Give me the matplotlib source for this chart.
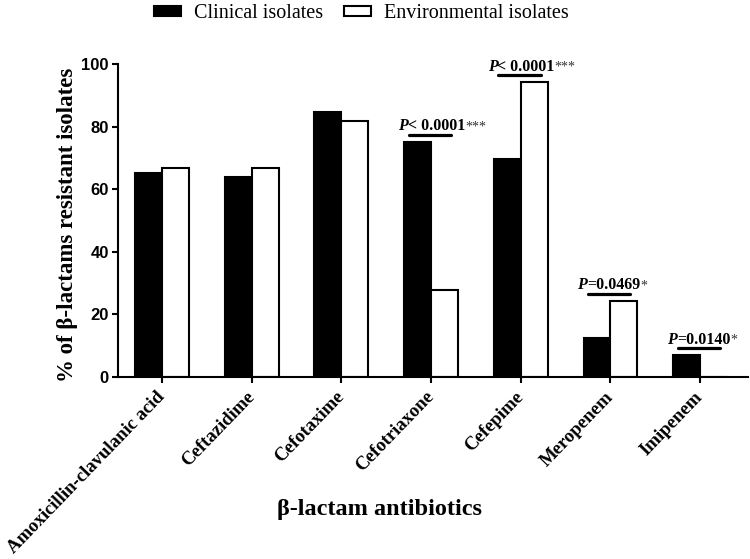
import numpy as np
import matplotlib
matplotlib.use("Agg")
import matplotlib.pyplot as plt
from matplotlib.patches import Patch
from matplotlib.offsetbox import TextArea, HPacker, AnnotationBbox

# --- data ---
categories = ['Amoxicillin-clavulanic acid', 'Ceftazidime', 'Cefotaxime',
              'Cefotriaxone', 'Cefepime', 'Meropenem', 'Imipenem']
clinical = [65.2, 63.8, 84.8, 75.2, 69.6, 12.5, 7.0]
environmental = [66.8, 66.8, 81.8, 27.8, 94.2, 24.3, 0.0]
p_texts = [None, None, None, '< 0.0001', '< 0.0001', '=0.0469', '=0.0140']
p_stars = [None, None, None, '***', '***', '*', '*']
y_ticks = [0, 20, 40, 60, 80, 100]

SERIF = 'Liberation Serif'
SANS = 'Liberation Sans'

fig = plt.figure(figsize=(7.5, 5.59), dpi=100)
ax = fig.add_axes([0.1573, 0.3256, 0.8397, 0.5599])

x = np.arange(len(categories))
w = 0.3
ax.bar(x - w / 2, clinical, w, color='black', edgecolor='black', linewidth=1.5)
ax.bar(x + w / 2, environmental, w, color='white', edgecolor='black', linewidth=1.5)

ax.set_xlim(-0.49, 6.53)
ax.set_ylim(0, 100)
ax.set_yticks(y_ticks)
ax.set_yticklabels([str(t) for t in y_ticks], fontfamily=SANS, fontweight='bold', fontsize=12)
ax.set_xticks(x)
ax.set_xticklabels(categories, rotation=46, ha='right', va='center', rotation_mode='anchor',
                   fontfamily=SERIF, fontweight='bold', fontsize=13.5)

for side in ['top', 'right']:
    ax.spines[side].set_visible(False)
for side in ['left', 'bottom']:
    ax.spines[side].set_linewidth(1.5)
ax.tick_params(axis='both', direction='out', length=4.5, width=1.5, pad=2)
ax.tick_params(axis='x', pad=8)

ax.set_ylabel('% of β-lactams resistant isolates', fontfamily=SERIF, fontweight='bold', fontsize=16.5)
ax.yaxis.set_label_coords(-0.063, 0.486)
ax.set_xlabel('β-lactam antibiotics', fontfamily=SERIF, fontweight='bold', fontsize=17.5)
ax.xaxis.set_label_coords(0.416, -0.39)

# significance annotations
for i, p in enumerate(p_texts):
    if p is None:
        continue
    y_line = max(clinical[i], environmental[i]) + 2.2
    ax.plot([i - 0.25, i + 0.22], [y_line, y_line], color='black', lw=2.3,
            solid_capstyle='round', clip_on=False)
    parts = HPacker(children=[
        TextArea('P', textprops=dict(fontfamily=SERIF, fontweight='bold', fontstyle='italic', fontsize=11.5)),
        TextArea(p, textprops=dict(fontfamily=SERIF, fontweight='bold', fontsize=11.5)),
        TextArea(p_stars[i], textprops=dict(fontfamily=SERIF, fontsize=10, color='#333333')),
    ], align='baseline', pad=0, sep=0)
    ab = AnnotationBbox(parts, (i - 0.37, y_line + 0.2), box_alignment=(0, 0),
                        frameon=False, pad=0, annotation_clip=False)
    ax.add_artist(ab)

handles = [Patch(facecolor='black', edgecolor='black', linewidth=1.5),
           Patch(facecolor='white', edgecolor='black', linewidth=1.5)]
fig.legend(handles, ['Clinical isolates', 'Environmental isolates'], loc='upper center',
           bbox_to_anchor=(0.482, 1.025), ncol=2, frameon=False,
           prop=dict(family=SERIF, size=14.5), handlelength=1.35, handleheight=0.4,
           handletextpad=0.65, columnspacing=1.0)

fig.savefig('out.png', dpi=100)
